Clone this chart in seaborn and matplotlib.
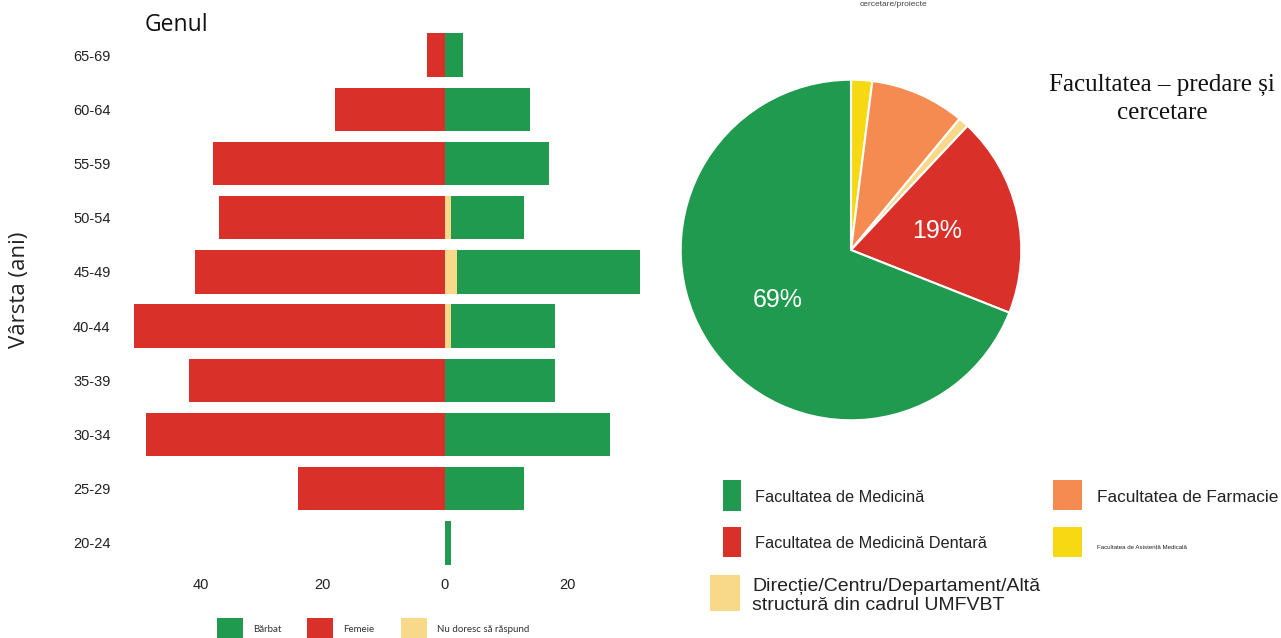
import matplotlib
matplotlib.use("Agg")
import matplotlib.pyplot as plt
from matplotlib.patches import Rectangle
import seaborn as sns

# Age pyramid data (counts per gender)
age_groups = ["65-69", "60-64", "55-59", "50-54", "45-49",
              "40-44", "35-39", "30-34", "25-29", "20-24"]
male = [3, 14, 17, 12, 30, 17, 18, 27, 13, 1]
female = [3, 18, 38, 37, 41, 51, 42, 49, 24, 0]
no_answer = [0, 0, 0, 1, 2, 1, 0, 0, 0, 0]
gender_labels = ["Bărbat", "Femeie", "Nu doresc să răspund"]
x_ticks = [-40, -20, 0, 20]

# Faculty pie data (clockwise from top)
faculty_labels = ["Facultatea de Asistență Medicală", "Facultatea de Farmacie",
                  "Direcție/Centru/Departament/Altă\nstructură din cadrul UMFVBT",
                  "Facultatea de Medicină Dentară", "Facultatea de Medicină"]
faculty_share = [2, 9, 1, 19, 69]

GREEN = "#1f9a4f"
RED = "#d9302a"
PALE = "#f8d98a"
ORANGE = "#f58b51"
YELLOW = "#f6d912"
faculty_colors = [YELLOW, ORANGE, PALE, RED, GREEN]

sns.set_theme(style="white")
plt.rcParams["font.family"] = ["Liberation Sans", "DejaVu Sans"]

W, H = 1281, 638
fig = plt.figure(figsize=(W / 100, H / 100), dpi=100)

# ---- left: population pyramid ----
ax = fig.add_axes([130 / W, 1 - 570 / H, 520 / W, 542 / H])
total_right = [m + n for m, n in zip(male, no_answer)]
neg_female = [-f for f in female]
bar_kw = dict(order=age_groups, orient="h", width=0.8, saturation=1,
              linewidth=0, ax=ax)
sns.barplot(x=total_right, y=age_groups, color=GREEN, **bar_kw)
sns.barplot(x=no_answer, y=age_groups, color=PALE, **bar_kw)
sns.barplot(x=neg_female, y=age_groups, color=RED, **bar_kw)
ax.set_xlim(-51.6, 33.6)
ax.set_ylim(9.5, -0.5)
ax.set_xticks(x_ticks)
ax.set_xticklabels([str(abs(t)) for t in x_ticks])
ax.tick_params(axis="both", length=0, labelsize=10.5, colors="#222222")
ax.tick_params(axis="y", pad=14)
ax.tick_params(axis="x", pad=6)
ax.set_xlabel("")
ax.set_ylabel("")
sns.despine(ax=ax, left=True, bottom=True)

fig.text(20 / W, 1 - 290 / H, "Vârsta (ani)", rotation=90, ha="center",
         va="center", fontsize=16, family=["Open Sans", "DejaVu Sans"], color="#222222")
fig.text(145 / W, 1 - 25 / H, "Genul", ha="left", va="center", fontsize=16.5,
         family=["Open Sans", "DejaVu Sans"], color="#111111")

# gender legend at the bottom
leg_x = [217, 307, 401]
for x0, lab, col in zip(leg_x, gender_labels, [GREEN, RED, PALE]):
    fig.add_artist(Rectangle((x0 / W, 1 - 642 / H), 26 / W, 24 / H,
                             transform=fig.transFigure, color=col, lw=0))
    fig.text((x0 + 36) / W, 1 - 629 / H, lab, fontsize=7, va="center",
             family=["Lato", "DejaVu Sans"], color="#333333")

# ---- right: pie chart ----
pax = fig.add_axes([679 / W, 1 - 422 / H, 344 / W, 344 / H])
pax.pie(faculty_share, colors=faculty_colors, startangle=90, counterclock=False,
        autopct=lambda p: f"{p:.0f}%" if p > 10 else "", pctdistance=0.52,
        wedgeprops=dict(edgecolor="white", linewidth=1.5),
        textprops=dict(color="white", fontsize=18))
pax.set_xlim(-1.01, 1.01)
pax.set_ylim(-1.01, 1.01)
pax.set_aspect("equal")

fig.text(1162 / W, 1 - 99 / H, "Facultatea – predare și\ncercetare", ha="center",
         va="center", fontsize=18, linespacing=1.3,
         family=["Liberation Serif", "DejaVu Serif"], color="#111111")
fig.text(893 / W, 1 - 4 / H, "cercetare/proiecte", ha="center", va="center",
         fontsize=6, color="#444444")

# pie legend
legend_items = [
    (faculty_labels[4], GREEN, 723, 480, 18, 31, 755, 497, 11.7, 1.0),
    (faculty_labels[3], RED, 723, 527, 18, 30, 755, 543, 11.7, 1.0),
    (faculty_labels[2], PALE, 710, 575, 30, 36, 752, 596, 14, 1.08),
    (faculty_labels[1], ORANGE, 1053, 480, 29, 30, 1097, 497, 12.4, 1.0),
    (faculty_labels[0], YELLOW, 1053, 527, 29, 30, 1097, 548, 4.4, 1.0),
]
for lab, col, x0, y0, w, h, tx, ty, fs, ls in legend_items:
    fig.add_artist(Rectangle((x0 / W, 1 - (y0 + h) / H), w / W, h / H,
                             transform=fig.transFigure, color=col, lw=0))
    fig.text(tx / W, 1 - ty / H, lab, fontsize=fs, va="center", ha="left",
             linespacing=ls, color="#222222")

fig.savefig("out.png", dpi=100)
